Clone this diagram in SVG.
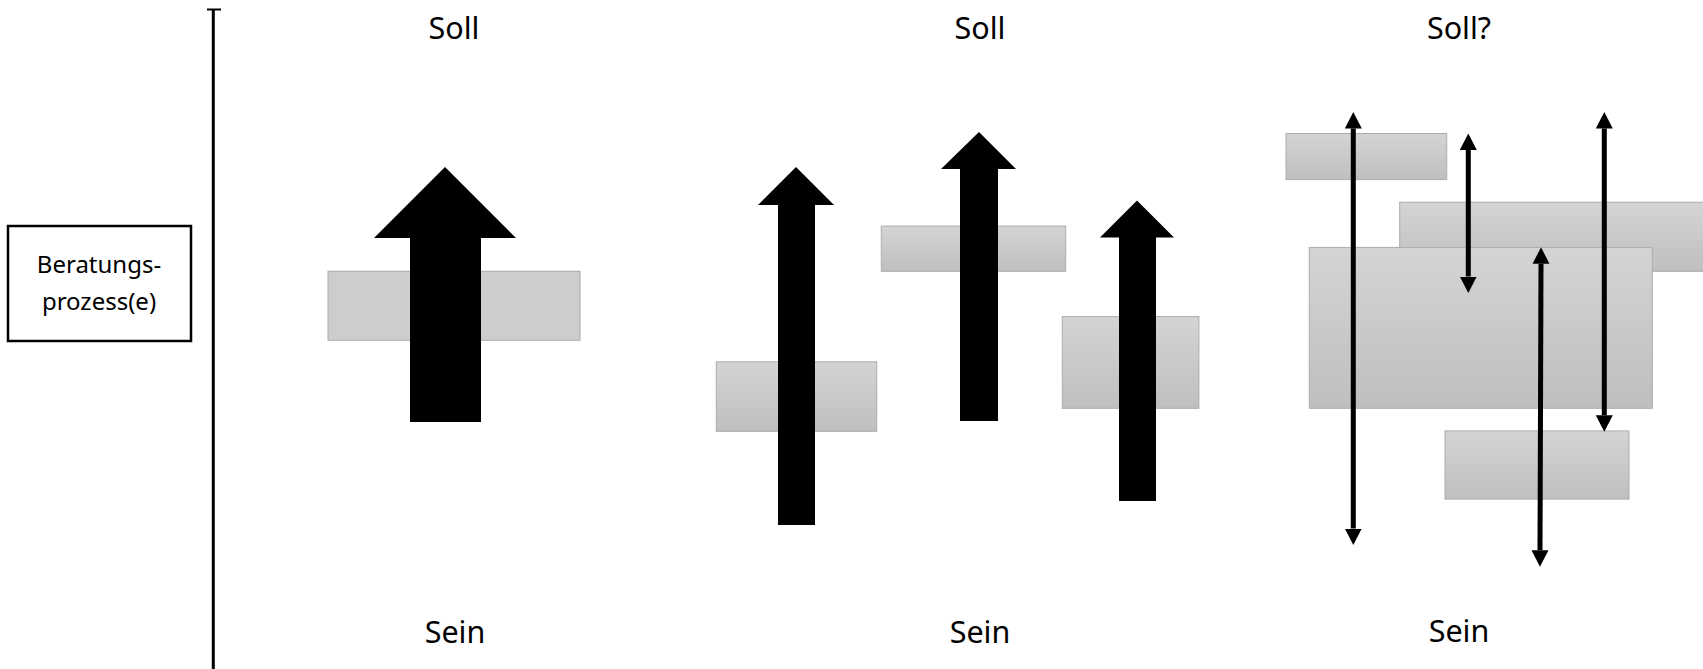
<svg xmlns="http://www.w3.org/2000/svg" width="1703" height="669" viewBox="0 0 1703 669">
<style>
text{font-family:"Noto Sans","Open Sans","Liberation Sans",sans-serif;fill:#000}
.lbl{font-size:30.5px;text-anchor:middle}
.box-t{font-size:24px;text-anchor:middle}
.flat{fill:#cecdce;stroke:#a9a9a9;stroke-width:1}
.grad{fill:url(#g);stroke:#acacac;stroke-width:1}
.big{fill:#000}
.dbl{stroke:#000;stroke-width:5;marker-start:url(#h);marker-end:url(#h)}
</style>
<defs>
<linearGradient id="g" x1="0" y1="0" x2="0" y2="1">
<stop offset="0" stop-color="#d4d4d4"/>
<stop offset="1" stop-color="#bfbfbf"/>
</linearGradient>
<marker id="h" markerUnits="userSpaceOnUse" markerWidth="17" markerHeight="18" refX="0" refY="8.5" orient="auto-start-reverse" viewBox="0 0 17 17">
<path d="M0,0 L16.5,8.5 L0,17 z" fill="#000"/>
</marker>
</defs>
<g id="axis">
<line x1="213.3" y1="9" x2="213.3" y2="669" stroke="#000" stroke-width="3"/>
<line x1="207" y1="9.5" x2="221" y2="9.5" stroke="#000" stroke-width="2"/>
</g>
<g id="node-beratung">
<rect x="8" y="226" width="183" height="115" fill="#fff" stroke="#000" stroke-width="2.5"/>
<text class="box-t" x="99" y="273">Beratungs-</text>
<text class="box-t" x="99" y="310">prozess(e)</text>
</g>
<g id="labels">
<text class="lbl" x="454" y="39">Soll</text>
<text class="lbl" x="980" y="39">Soll</text>
<text class="lbl" x="1459" y="39">Soll?</text>
<text class="lbl" x="455" y="643">Sein</text>
<text class="lbl" x="980" y="643">Sein</text>
<text class="lbl" x="1459" y="642">Sein</text>
</g>
<g id="group1">
<rect id="r1" class="flat" x="328" y="271.3" width="252" height="69"/>
<polygon id="a1" class="big" points="445,167 516,238 481,238 481,422 410,422 410,238 374,238"/>
</g>
<g id="group2">
<rect id="r2a" class="grad" x="716.3" y="361.8" width="160.4" height="69.5"/>
<rect id="r2b" class="grad" x="881.3" y="226.1" width="184.4" height="45.2"/>
<rect id="r2c" class="grad" x="1062.3" y="316.6" width="136.6" height="91.7"/>
<polygon id="a2a" class="big" points="796,167 834,205 815,205 815,525 778,525 778,205 758,205"/>
<polygon id="a2b" class="big" points="979,132 1016,169 998,169 998,421 960,421 960,169 941,169"/>
<polygon id="a2c" class="big" points="1137,200.5 1174,237.6 1156,237.6 1156,501 1119,501 1119,237.6 1100,237.6"/>
</g>
<g id="group3">
<rect id="r3a" class="grad" x="1286" y="133.5" width="160.7" height="46.1"/>
<rect id="r3b" class="grad" x="1399.7" y="202.2" width="310" height="69.1"/>
<rect id="r3c" class="grad" x="1309.3" y="247.4" width="343" height="160.9"/>
<rect id="r3d" class="grad" x="1445" y="430.9" width="184" height="68.2"/>
</g>
<g id="connectors">
<line class="dbl" x1="1353.3" y1="128.5" x2="1353.3" y2="528.5"/>
<line class="dbl" x1="1468.3" y1="150" x2="1468.3" y2="276.5"/>
<line class="dbl" x1="1604.3" y1="128.5" x2="1604.3" y2="415.2"/>
<line class="dbl" x1="1541" y1="263.8" x2="1540" y2="550.3"/>
</g>
</svg>
